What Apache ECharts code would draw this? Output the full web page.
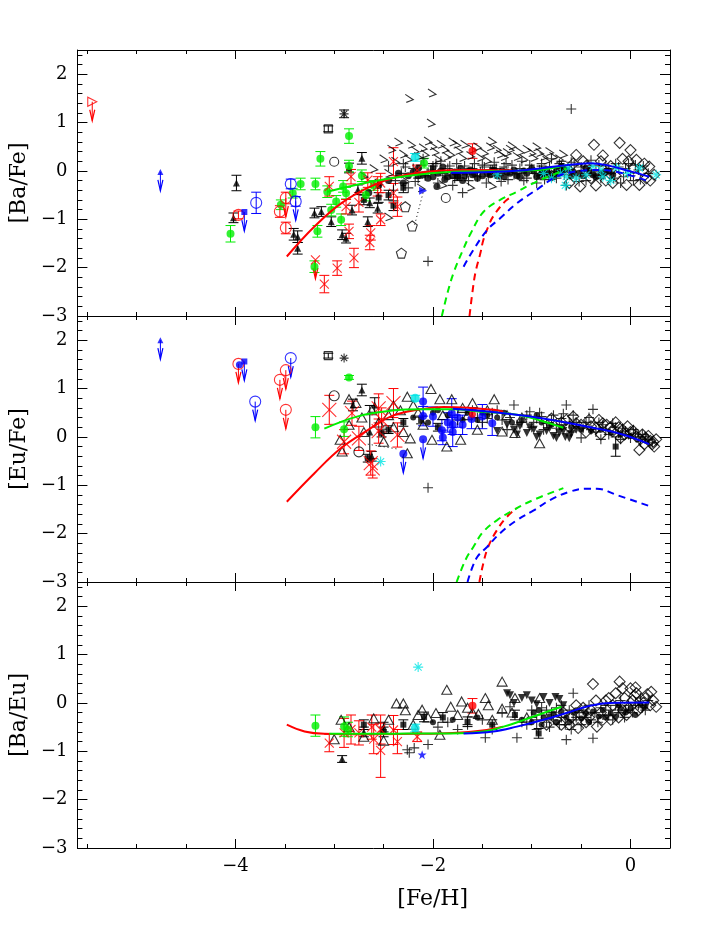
<!DOCTYPE html>
<html>
<head>
  <meta charset="UTF-8">
  <title>Ba Eu Fe</title>
  <script src="https://cdn.jsdelivr.net/npm/echarts@6/dist/echarts.min.js"></script>
  <style>
    * { padding: 0; margin: 0; }
    #main { width: 708px; height: 944px; background: #fff; }
  </style>
</head>
<body>
  <div id="main"></div>
  <script>
    // ---- ticks ----
    var xMajor = [-4, -2, 0];
    var xMinor = [-5.5, -5, -4.5, -3.5, -3, -2.5, -1.5, -1, -0.5];
    var yMajor = [-3, -2, -1, 0, 1, 2];
    var yMinor = [-2.8, -2.6, -2.4, -2.2, -1.8, -1.6, -1.4, -1.2, -0.8, -0.6, -0.4, -0.2,
      0.2, 0.4, 0.6, 0.8, 1.2, 1.4, 1.6, 1.8, 2.2, 2.4];
    var yNames = ['[Ba/Fe]', '[Eu/Fe]', '[Ba/Eu]'];

    // ---- panel 1: [Ba/Fe] ----
    var p1Hook = [[-2.24, 1.50], [-2.01, 1.61], [-2.02, 0.99],
      [-2.50, 0.25], [-2.42, 0.45], [-2.35, 0.60], [-2.30, 0.35], [-2.22, 0.55], [-2.15, 0.30], [-2.10, 0.48],
      [-2.05, 0.62], [-1.98, 0.40], [-1.92, 0.55], [-1.86, 0.30], [-1.80, 0.60], [-1.74, 0.42], [-1.68, 0.55],
      [-1.62, 0.32], [-1.55, 0.50], [-1.48, 0.38], [-1.40, 0.62], [-1.35, 0.45], [-1.28, 0.30], [-1.20, 0.52],
      [-1.12, 0.40], [-1.05, 0.45], [-0.98, 0.28], [-0.92, 0.38], [-0.85, 0.22], [-0.78, 0.30], [-2.45, -0.05],
      [-2.28, -0.20], [-2.12, -0.35], [-1.90, -0.28], [-1.62, -0.33], [-1.40, -0.30], [-2.60, 0.05],
      [-2.70, -0.10], [-2.55, -0.25], [-2.45, -0.95], [-2.38, 0.20], [-2.18, 0.42], [-1.95, 0.25], [-1.70, 0.28],
      [-1.45, 0.22], [-1.25, 0.38], [-1.08, 0.25],
      [-2.25, 0.25], [-2.08, 0.35], [-2.00, 0.52], [-1.88, 0.45], [-1.82, 0.35], [-1.76, 0.55], [-1.60, 0.45],
      [-1.52, 0.28], [-1.42, 0.50], [-1.32, 0.35], [-1.22, 0.45], [-1.15, 0.30], [-1.00, 0.38], [-0.95, 0.50],
      [-0.88, 0.30], [-0.82, 0.40], [-0.72, 0.25], [-0.68, 0.35]];
    var p1Plus = [[-2.45, 0.10], [-2.38, -0.20], [-2.30, 0.15], [-2.25, -0.35], [-2.20, 0.05], [-2.15, -0.15],
      [-2.10, 0.25], [-2.05, -0.05], [-2.00, 0.10], [-1.95, -0.25], [-1.92, 0.20], [-1.88, -0.10], [-1.85, 0.05],
      [-1.80, -0.30], [-1.76, 0.15], [-1.72, -0.05], [-1.68, 0.10], [-1.64, -0.20], [-1.60, 0.05], [-1.55, -0.12],
      [-1.50, 0.12], [-1.46, -0.25], [-1.42, 0.02], [-1.38, 0.18], [-1.33, -0.10], [-1.28, 0.08], [-1.24, -0.18],
      [-1.20, 0.12], [-1.15, -0.05], [-1.10, 0.20], [-1.05, -0.15], [-1.00, 0.05], [-0.95, -0.25], [-0.90, 0.15],
      [-0.85, -0.05], [-0.80, 0.25], [-0.75, -0.15], [-0.70, 0.05], [-0.65, -0.30], [-0.60, 0.18], [-0.55, -0.10],
      [-0.50, 0.08], [-0.45, -0.20], [-0.40, 0.22], [-0.35, 0.00], [-0.30, -0.15], [-0.25, 0.10], [-0.20, -0.05],
      [-0.15, 0.15], [-0.10, -0.25], [-0.05, 0.05], [0.00, -0.10], [0.05, 0.12], [0.10, -0.18], [-1.70, -0.45],
      [-2.40, -0.40], [-0.60, 1.28], [-2.05, -1.87],
      [-2.32, -0.05], [-2.28, 0.08], [-2.18, -0.22], [-2.12, 0.12], [-2.08, -0.10], [-2.02, 0.02], [-1.97, 0.15],
      [-1.90, -0.05], [-1.83, 0.10], [-1.78, -0.15], [-1.74, 0.02], [-1.66, -0.08], [-1.58, 0.15], [-1.52, -0.02],
      [-1.48, 0.08], [-1.44, -0.12], [-1.36, 0.05], [-1.31, -0.22], [-1.26, 0.15], [-1.18, -0.08], [-1.12, 0.05],
      [-1.08, -0.20], [-1.02, 0.12], [-0.97, -0.05], [-0.92, 0.02], [-0.87, -0.18], [-0.82, 0.08], [-0.77, -0.02],
      [-0.72, 0.15], [-0.67, -0.08], [-0.62, 0.02], [-0.57, 0.12], [-0.52, -0.22], [-0.47, 0.00], [-0.42, 0.10],
      [-0.37, -0.10], [-0.32, 0.12], [-0.27, -0.08], [-0.22, 0.05], [-0.17, -0.15], [-0.12, 0.08], [-0.07, -0.12],
      [-0.02, 0.15], [0.03, -0.20], [0.08, 0.02], [0.13, 0.10], [0.18, -0.05]];
    var p1Dot = [[-2.35, -0.05], [-2.15, -0.10], [-1.96, -0.32], [-1.85, -0.12], [-1.72, 0.05], [-1.60, -0.08],
      [-1.45, -0.05], [-1.30, 0.00], [-1.15, -0.10], [-1.00, 0.05], [-0.88, -0.05], [-0.75, 0.00], [-0.60, -0.10],
      [-0.45, 0.05], [-0.30, -0.05], [-2.55, -0.30], [-2.65, -0.45],
      [-2.25, -0.10], [-2.05, -0.15], [-1.95, -0.05], [-1.80, -0.10], [-1.65, 0.00], [-1.55, -0.15], [-1.35, -0.10],
      [-1.22, -0.05], [-1.08, 0.00], [-0.95, -0.12], [-0.82, -0.08], [-0.68, 0.02], [-0.52, -0.05], [-0.38, -0.08],
      [-0.22, 0.00], [-2.45, -0.20], [-2.30, -0.25], [-2.15, 0.05], [-1.90, 0.08], [-1.70, -0.20],
      [-2.20, -0.02], [-2.10, -0.08], [-2.00, -0.12], [-1.92, 0.00], [-1.88, -0.18], [-1.78, -0.02], [-1.75, -0.12],
      [-1.68, -0.10], [-1.62, 0.02], [-1.58, -0.05], [-1.50, -0.10], [-1.42, -0.08], [-1.38, 0.02], [-1.28, -0.12],
      [-1.25, -0.02], [-1.18, 0.02], [-1.12, -0.12], [-1.05, -0.05], [-0.98, 0.00], [-0.92, -0.10], [-0.85, 0.02],
      [-0.78, -0.12], [-0.72, -0.05], [-0.65, 0.02], [-0.58, -0.02], [-0.48, -0.10], [-0.42, 0.00], [-0.35, -0.12],
      [-0.26, -0.02], [-0.18, -0.08]];
    var p1Square = [[-2.55, -0.55, 0.10], [-2.45, -0.50, 0.10], [-2.40, -0.72, 0.10], [-2.70, -0.60, 0.10],
      [-2.30, -0.35, 0.10], [-2.00, 0.05, 0.10], [-1.75, -0.10, 0.10], [-1.40, 0.02, 0.10], [-0.90, 0.00, 0.10],
      [-0.70, 0.10, 0.10]];
    var p1TriF = [[-3.99, -0.25, 0.16], [-4.02, -0.97, 0.10], [-2.72, 0.26, 0.12], [-3.20, -0.87, 0.10],
      [-3.13, -0.84, 0.10], [-3.41, -1.31, 0.12], [-3.37, -1.36, 0.12], [-3.37, -1.60, 0.12], [-3.03, -1.05, 0.10],
      [-2.92, -1.32, 0.10], [-2.88, -1.39, 0.10], [-2.82, -0.81, 0.10], [-2.85, 0.06, 0.10], [-2.76, -0.39, 0.10],
      [-2.66, -1.05, 0.10], [-2.56, -0.77, 0.10], [-2.64, -0.66, 0.10]];
    var p1Green = [[-4.05, -1.30, 0.17], [-3.34, -0.27, 0.12], [-3.19, -0.27, 0.12], [-3.14, 0.25, 0.15],
      [-2.85, 0.72, 0.15], [-3.07, -0.43, 0.12], [-3.03, -0.81, 0.12], [-3.17, -1.25, 0.12], [-3.20, -1.98, 0.12],
      [-2.98, -0.63, 0.12], [-2.91, -0.32, 0.12], [-2.88, -0.46, 0.12], [-2.85, 0.10, 0.12], [-2.72, -0.10, 0.12],
      [-2.68, -0.50, 0.12], [-2.93, -1.01, 0.12], [-3.42, -0.46, 0.10], [-3.54, -0.70, 0.10], [-2.09, 0.16, 0.10],
      [-2.60, -0.30, 0.10]];
    var p1RedX = [[-3.05, -0.32, 0.20], [-2.83, -0.12, 0.15], [-2.75, -0.65, 0.20], [-2.85, -1.25, 0.15],
      [-2.80, -1.80, 0.20], [-2.97, -2.01, 0.15], [-3.10, -2.34, 0.18], [-2.63, -1.28, 0.15], [-2.64, -1.48, 0.15],
      [-2.53, -1.01, 0.12], [-2.40, 0.19, 0.29], [-2.40, -0.46, 0.20], [-2.36, -0.74, 0.20], [-2.56, -0.32, 0.20],
      [-2.88, -0.74, 0.15], [-2.66, -0.19, 0.15], [-2.53, -0.25, 0.20], [-2.16, 0.02, 0.10]];
    var p1RedXLim = [[-3.19, -1.84]];
    var p1RedCirc = [[-3.97, -0.91, 0.08], [-3.55, -0.84, 0.12], [-3.49, -0.56, 0.12], [-3.49, -1.18, 0.12]];
    var p1RedCircLim = [[-3.49, -0.56]];
    var p1BlueCirc = [[-3.79, -0.66, 0.22], [-3.44, -0.27, 0.10], [-3.39, -0.63, 0.10]];
    var p1BlueCircLim = [[-3.39, -0.63]];
    var p1BlueSq = [[-3.91, -0.85]];
    var p1BlueTri = [[-4.76, -0.02]];
    var p1RedTri = [[-5.45, 1.43]];
    var p1BlueTriR = [[-2.10, -0.41]];
    var p1CyanDot = [[-2.18, 0.28, 0.08]];
    var p1CyanStar = [[-1.35, -0.08], [-0.88, -0.05], [-0.80, -0.15], [-0.71, -0.05], [-0.65, -0.12], [-0.63, 0.06],
      [-0.66, -0.30], [-0.45, -0.08], [-0.38, 0.09], [-0.30, 0.02], [-0.28, -0.12], [-0.14, 0.06], [-0.03, -0.05],
      [0.09, 0.06], [0.26, -0.08], [-0.55, -0.15], [-0.20, -0.20]];
    var p1RedDot = [[-1.60, 0.41, 0.15]];
    var p1Ast = [[-2.90, 1.18, 0.08]];
    var p1OpenSq = [[-3.06, 0.87, 0.06]];
    var p1OpenCirc = [[-3.00, 0.19], [-1.87, -0.56]];
    var p1Pent = [[-2.32, -1.70], [-2.21, -1.14], [-2.28, -0.74]];
    var p1Diamond = [[-0.80, -0.10], [-0.70, 0.05], [-0.62, -0.25], [-0.55, 0.33], [-0.51, -0.32], [-0.45, 0.10],
      [-0.40, -0.15], [-0.37, 0.54], [-0.30, 0.20], [-0.25, -0.20], [-0.20, 0.10], [-0.15, -0.10], [-0.11, 0.58],
      [-0.08, 0.25], [-0.04, -0.29], [0.00, 0.43], [0.03, 0.05], [0.06, 0.23], [0.09, -0.29], [0.12, 0.00],
      [0.16, -0.15], [0.19, 0.09], [0.24, -0.08], [-0.35, -0.30], [-0.58, 0.15], [-0.48, 0.20], [-0.28, 0.32],
      [-0.18, -0.25], [-0.02, 0.20], [0.14, 0.15], [0.20, -0.20]];
    var p1RedLine = [[-3.48, -1.77], [-3.20, -1.15], [-2.93, -0.67], [-2.63, -0.32], [-2.36, -0.12], [-2.03, -0.01],
      [-1.62, 0.02], [-1.20, 0.01]];
    var p1GreenLine = [[-3.07, -0.43], [-2.53, -0.19], [-2.02, -0.05], [-1.62, -0.01], [-1.20, 0.00], [-0.88, 0.03],
      [-0.65, 0.12]];
    var p1BlueLine = [[-1.82, -0.04], [-1.40, -0.02], [-1.05, 0.02], [-0.72, 0.10], [-0.41, 0.16], [-0.24, 0.12],
      [0.00, -0.01], [0.19, -0.12]];
    var p1RedDash = [[-1.63, -3.0], [-1.60, -2.5], [-1.57, -2.1], [-1.52, -1.7], [-1.49, -1.43], [-1.44, -1.15],
      [-1.39, -0.94], [-1.27, -0.63], [-1.20, -0.53]];
    var p1GreenDash = [[-1.91, -3.0], [-1.85, -2.5], [-1.79, -2.1], [-1.70, -1.65], [-1.62, -1.30], [-1.49, -0.85],
      [-1.32, -0.60], [-1.15, -0.43], [-0.95, -0.22], [-0.75, -0.05], [-0.65, 0.05]];
    var p1BlueDash = [[-1.69, -1.98], [-1.59, -1.63], [-1.45, -1.22], [-1.32, -0.98], [-1.15, -0.67], [-0.93, -0.36],
      [-0.75, -0.12], [-0.55, -0.01], [-0.31, 0.02], [-0.08, -0.05], [0.19, -0.22]];
    var p1Dotted = [[-2.10, -0.45], [-2.19, -1.15]];

    // ---- panel 2: [Eu/Fe] ----
    var p2BlueTri = [[-4.76, 2.00]];
    var p2RedCirc = [[-3.97, 1.51], [-3.49, 1.38], [-3.55, 1.18], [-3.49, 0.56]];
    var p2BlueCirc = [[-3.44, 1.63], [-3.80, 0.73]];
    var p2BlueSq = [[-3.91, 1.56]];
    var p2BlueDotLim = [[-3.96, 1.49]];
    var p2OpenSq = [[-3.06, 1.68, 0.05]];
    var p2Ast = [[-2.90, 1.63]];
    var p2Green = [[-2.85, 1.23, 0.04], [-3.19, 0.20, 0.22], [-2.90, 0.16, 0.15]];
    var p2OpenCirc = [[-3.00, 0.85], [-2.75, -0.31]];
    var p2TriF = [[-2.72, 0.97, 0.12], [-2.81, 0.66, 0.12], [-2.59, 0.66, 0.15], [-2.64, 0.10, 0.55],
      [-2.62, -0.40, 0.10]];
    var p2Square = [[-2.52, 0.08, 0.08], [-2.66, -0.44, 0.08], [-2.45, 0.15, 0.08], [-2.30, 0.30, 0.08],
      [-2.12, 0.35, 0.08], [-1.95, 0.20, 0.08], [-0.15, -0.20, 0.20]];
    var p2RedX = [[-3.05, 0.56, 0.30], [-2.82, 0.49, 0.25], [-2.90, -0.10, 0.25], [-2.75, -0.03, 0.25],
      [-2.55, 0.59, 0.30], [-2.40, 0.70, 0.30], [-2.52, 0.35, 0.25], [-2.55, 0.12, 0.25], [-2.36, 0.04, 0.25],
      [-2.63, -0.54, 0.25], [-2.61, -0.65, 0.20]];
    var p2RedDot = [[-1.60, 0.47, 0.08]];
    var p2CyanStar = [[-2.53, -0.51]];
    var p2CyanDot = [[-2.18, 0.80, 0.06]];
    var p2Blue = [[-2.10, 0.73, 0.30], [-2.10, 0.43, 0.20], [-2.00, 0.42, 0.20], [-1.91, 0.14, 0.22],
      [-1.90, -0.01, 0.15], [-1.81, 0.49, 0.30], [-1.80, 0.25, 0.20], [-1.80, 0.10, 0.30], [-1.70, 0.25, 0.20],
      [-1.61, 0.37, 0.20], [-1.50, 0.42, 0.25], [-1.40, 0.28, 0.25], [-1.75, 0.40, 0.20], [-1.85, 0.30, 0.20]];
    var p2BlueLim = [[-2.10, -0.05], [-2.30, -0.35]];
    var p2Tri = [[-2.94, -0.06], [-2.92, -0.30], [-2.85, 0.78], [-2.78, 0.70], [-2.72, 0.40], [-2.62, 0.55],
      [-2.55, 0.30], [-2.45, 0.45], [-2.40, 0.20], [-2.33, 0.55], [-2.26, 0.83], [-2.23, -0.03], [-2.26, -0.34],
      [-2.15, 0.50], [-2.02, 0.99], [-2.01, -0.06], [-1.93, 0.78], [-1.86, -0.20], [-1.81, 0.78], [-1.72, -0.06],
      [-1.70, 0.60], [-1.65, 0.45], [-1.55, 0.15], [-1.45, 0.55], [-1.38, 0.78], [-1.30, 0.11], [-1.25, 0.45],
      [-1.17, 0.08], [-1.10, 0.40], [-0.92, -0.13], [-2.50, -0.10], [-2.70, 0.10], [-2.85, 0.25], [-2.30, 0.10],
      [-2.10, 0.25], [-1.60, 0.70], [-2.40, 0.65], [-1.90, 0.45], [-2.20, 0.65]];
    var p2Plus = [[-1.60, 0.55], [-1.50, 0.30], [-1.40, 0.50], [-1.30, 0.35], [-1.18, 0.66], [-1.15, 0.25],
      [-1.05, 0.45], [-1.00, 0.20], [-0.95, 0.38], [-0.88, 0.15], [-0.80, 0.35], [-0.72, 0.25], [-0.65, 0.66],
      [-0.60, 0.10], [-0.55, 0.30], [-0.48, 0.18], [-0.42, 0.40], [-0.38, 0.57], [-0.35, 0.10], [-0.28, 0.25],
      [-0.22, 0.05], [-0.15, 0.20], [-0.10, -0.05], [-0.05, 0.12], [0.00, -0.02], [0.05, 0.08], [0.10, -0.10],
      [0.15, 0.00], [-0.68, 0.48], [-0.92, 0.50], [-1.25, 0.15], [-0.50, -0.02], [-0.30, -0.05], [-1.75, 0.35],
      [-1.55, 0.40], [-2.05, -1.05],
      [-1.45, 0.38], [-1.35, 0.55], [-1.22, 0.40], [-1.10, 0.30], [-1.02, 0.52], [-0.98, 0.30], [-0.90, 0.42],
      [-0.85, 0.28], [-0.78, 0.45], [-0.75, 0.18], [-0.70, 0.38], [-0.62, 0.30], [-0.58, 0.45], [-0.52, 0.22],
      [-0.45, 0.30], [-0.40, 0.15], [-0.32, 0.30], [-0.25, 0.15], [-0.18, 0.28], [-0.12, 0.08], [-0.08, 0.18],
      [-0.02, 0.05], [0.03, 0.15], [0.08, 0.00], [0.12, 0.05], [0.18, -0.05], [0.22, -0.12]];
    var p2TriInv = [[-1.25, 0.25], [-1.18, 0.15], [-1.12, 0.22], [-1.05, 0.08], [-0.98, 0.15], [-0.92, 0.05],
      [-0.85, 0.12], [-0.78, 0.02], [-0.72, 0.08], [-0.66, 0.00], [-0.60, 0.06], [-1.35, 0.12], [-0.55, 0.15],
      [-1.15, 0.05], [-1.02, 0.20], [-0.95, 0.00], [-0.82, 0.18], [-0.75, -0.02], [-0.68, 0.12], [-0.62, -0.03]];
    var p2Diamond = [[-0.80, 0.38], [-0.70, 0.30], [-0.58, 0.42], [-0.50, 0.25], [-0.42, 0.35], [-0.35, 0.18],
      [-0.28, 0.28], [-0.24, 0.25], [-0.18, 0.12], [-0.12, 0.20], [-0.06, 0.05], [0.00, 0.10], [0.06, 0.01],
      [0.10, -0.05], [0.15, -0.02], [0.20, -0.08], [0.23, -0.10], [0.24, -0.20], [0.09, -0.27], [-0.30, 0.05],
      [-0.45, 0.10], [-0.62, 0.20],
      [-0.65, 0.35], [-0.55, 0.28], [-0.40, 0.22], [-0.32, 0.35], [-0.20, 0.20], [-0.15, 0.30], [-0.08, 0.15],
      [-0.03, 0.22], [0.03, 0.12], [0.12, 0.05], [0.18, 0.02], [0.22, -0.15], [0.26, -0.05], [0.14, -0.15],
      [-0.10, -0.02]];
    var p2Dot = [[-1.85, 0.45], [-1.70, 0.35], [-1.50, 0.50], [-1.35, 0.40], [-2.00, 0.50], [-1.20, 0.30],
      [-1.65, 0.50], [-1.55, 0.35], [-1.45, 0.45], [-1.28, 0.50], [-1.10, 0.35], [-0.95, 0.45], [-2.20, 0.40],
      [-2.05, 0.30], [-1.95, 0.55], [-0.90, 0.30], [-0.80, 0.25], [-0.70, 0.20], [-0.60, 0.20], [-0.50, 0.15],
      [-0.40, 0.12], [-0.30, 0.15], [-0.20, 0.08], [-0.10, 0.05], [0.00, 0.02]];
    var p2RedLine = [[-3.48, -1.34], [-3.20, -0.75], [-2.93, -0.23], [-2.66, 0.14], [-2.43, 0.42], [-2.16, 0.56],
      [-1.89, 0.62], [-1.62, 0.60], [-1.38, 0.56], [-1.29, 0.52]];
    var p2GreenLine = [[-3.10, 0.17], [-2.77, 0.42], [-2.43, 0.54], [-2.09, 0.57], [-1.82, 0.57], [-1.49, 0.52],
      [-1.15, 0.46], [-0.88, 0.32], [-0.68, 0.19]];
    var p2BlueLine = [[-1.80, 0.58], [-1.42, 0.52], [-1.05, 0.43], [-0.71, 0.32], [-0.38, 0.19], [-0.08, 0.05],
      [0.19, -0.15]];
    var p2RedDash = [[-1.53, -3.0], [-1.49, -2.61], [-1.44, -2.27], [-1.35, -1.92], [-1.25, -1.65], [-1.15, -1.47]];
    var p2GreenDash = [[-1.76, -3.0], [-1.67, -2.54], [-1.59, -2.27], [-1.49, -1.96], [-1.35, -1.72], [-1.19, -1.52],
      [-0.98, -1.30], [-0.68, -1.06]];
    var p2BlueDash = [[-1.65, -3.0], [-1.56, -2.51], [-1.45, -2.27], [-1.32, -1.99], [-1.15, -1.72], [-0.98, -1.52],
      [-0.81, -1.30], [-0.61, -1.13], [-0.44, -1.07], [-0.34, -1.07], [-0.14, -1.20], [0.19, -1.43]];
    var p2Dotted = [[-2.66, -0.15], [-2.36, -0.25]];

    // ---- panel 3: [Ba/Eu] ----
    var p3CyanStar = [[-2.15, 0.74]];
    var p3CyanDot = [[-2.18, -0.52, 0.08]];
    var p3Green = [[-3.19, -0.47, 0.22], [-2.90, -0.49, 0.20], [-2.86, -0.55, 0.15]];
    var p3TriF = [[-2.92, -1.16, 0.07], [-2.70, -0.60, 0.10], [-2.50, -0.50, 0.10]];
    var p3BlueStar = [[-2.11, -1.07]];
    var p3RedX = [[-3.05, -0.83, 0.18], [-2.90, -0.62, 0.30], [-2.83, -0.55, 0.30], [-2.75, -0.62, 0.25],
      [-2.62, -0.50, 0.25], [-2.53, -0.98, 0.56], [-2.53, -0.55, 0.30], [-2.40, -0.56, 0.30], [-2.36, -0.80, 0.25],
      [-2.16, -0.70, 0.10], [-2.60, -0.75, 0.30]];
    var p3RedDot = [[-1.60, -0.06, 0.15]];
    var p3Tri = [[-2.93, -0.35], [-3.00, -0.75], [-2.85, -0.50], [-2.70, -0.70], [-2.60, -0.32], [-2.50, -0.78],
      [-2.37, -0.01], [-2.30, -0.01], [-2.28, -0.15], [-2.20, -0.45], [-2.11, -0.14], [-2.05, -0.30], [-1.97, -0.21],
      [-1.93, -0.66], [-1.86, 0.27], [-1.82, -0.08], [-1.75, -0.25], [-1.71, 0.03], [-1.65, -0.10], [-1.54, -0.23],
      [-1.47, 0.10], [-1.44, -0.05], [-1.40, -0.35], [-1.30, 0.44], [-1.30, -0.12], [-1.20, -0.20], [-1.17, 0.10],
      [-1.05, -0.30], [-0.92, 0.10], [-2.45, -0.35], [-2.15, -0.25], [-1.60, -0.20]];
    var p3Plus = [[-2.26, -0.97], [-2.24, -1.03], [-2.19, -0.93], [-2.05, -0.86], [-1.95, -0.50], [-1.85, -0.40],
      [-1.75, -0.55], [-1.65, -0.45], [-1.50, -0.35], [-1.47, -0.72], [-1.40, -0.55], [-1.30, -0.20], [-1.22, -0.08],
      [-1.15, -0.72], [-1.10, -0.40], [-1.00, -0.30], [-0.95, -0.55], [-0.85, -0.40], [-0.80, -0.20], [-0.72, -0.45],
      [-0.65, -0.76], [-0.58, 0.20], [-0.55, -0.30], [-0.48, -0.15], [-0.40, -0.35], [-0.38, -0.73], [-0.30, -0.10],
      [-0.22, -0.25], [-0.15, -0.05], [-0.05, -0.15], [0.05, 0.00], [0.12, -0.10], [-0.70, -0.05], [-0.90, -0.10],
      [-0.60, -0.55],
      [-1.05, -0.45], [-1.00, -0.15], [-0.95, -0.35], [-0.90, -0.25], [-0.85, -0.15], [-0.82, -0.50], [-0.78, -0.35],
      [-0.75, -0.10], [-0.70, -0.30], [-0.66, -0.45], [-0.62, -0.15], [-0.58, -0.35], [-0.52, -0.20], [-0.50, -0.45],
      [-0.45, -0.30], [-0.42, -0.05], [-0.36, -0.20], [-0.33, -0.40], [-0.28, -0.25], [-0.25, -0.05], [-0.20, -0.15],
      [-0.18, -0.35], [-0.12, -0.20], [-0.10, 0.05], [-0.06, -0.30], [-0.02, -0.05], [0.02, -0.20], [0.08, -0.05],
      [0.10, 0.10], [0.15, -0.15], [0.18, 0.05]];
    var p3TriInv = [[-1.25, 0.20], [-1.22, 0.16], [-1.18, 0.00], [-1.10, 0.10], [-1.05, 0.16], [-1.00, 0.05],
      [-0.95, -0.03], [-0.88, 0.12], [-0.82, 0.00], [-0.76, 0.12], [-0.72, 0.08], [-0.68, -0.05]];
    var p3Square = [[-2.09, -0.29, 0.10], [-1.65, -0.39, 0.10], [-1.17, -0.25, 0.10], [-0.93, -0.63, 0.10],
      [-2.30, -0.45, 0.10], [-2.50, -0.60, 0.10], [-2.70, -0.45, 0.10], [-1.90, -0.30, 0.10], [-1.40, -0.45, 0.10]];
    var p3Diamond = [[-0.75, -0.35], [-0.68, -0.20], [-0.62, -0.45], [-0.53, -0.52], [-0.48, -0.10], [-0.42, -0.30],
      [-0.38, 0.39], [-0.34, -0.49], [-0.30, -0.20], [-0.25, 0.05], [-0.20, -0.35], [-0.15, 0.20], [-0.11, 0.44],
      [-0.08, -0.15], [-0.04, -0.25], [0.00, 0.30], [0.02, 0.05], [0.06, 0.20], [0.10, -0.10], [0.15, 0.10],
      [0.21, 0.23], [0.26, -0.08], [0.20, -0.05], [-0.55, -0.05], [-0.85, -0.45],
      [-0.70, -0.45], [-0.60, -0.30], [-0.50, -0.25], [-0.45, -0.40], [-0.40, -0.15], [-0.28, -0.35], [-0.22, 0.10],
      [-0.18, -0.05], [-0.12, -0.30], [-0.06, 0.10], [-0.02, -0.10], [0.04, 0.15], [0.08, -0.15], [0.13, 0.00],
      [0.17, 0.18], [0.23, 0.05], [-0.35, 0.05], [-0.08, 0.30], [0.05, 0.32]];
    var p3Dot = [[-1.10, -0.35], [-0.98, -0.20], [-0.88, -0.30], [-0.78, -0.22], [-0.65, -0.30], [-0.55, -0.15],
      [-0.45, -0.22], [-0.32, -0.28], [-0.20, -0.22], [-0.10, -0.12], [-1.55, -0.30], [-1.80, -0.35], [-2.00, -0.40],
      [-1.00, -0.40], [-0.93, -0.15], [-0.90, -0.45], [-0.82, -0.28], [-0.75, -0.40], [-0.70, -0.18], [-0.62, -0.40],
      [-0.58, -0.20], [-0.50, -0.32], [-0.42, -0.40], [-0.38, -0.18], [-0.28, -0.15], [-0.25, -0.30], [-0.15, -0.28],
      [-0.12, -0.05], [-0.05, -0.20], [0.00, -0.12], [0.05, -0.25], [0.10, -0.02], [0.15, -0.08]];
    var p3RedLine = [[-3.48, -0.45], [-3.30, -0.59], [-3.10, -0.64], [-2.70, -0.65], [-2.20, -0.64], [-1.80, -0.62],
      [-1.50, -0.57], [-1.29, -0.49]];
    var p3GreenLine = [[-3.05, -0.64], [-2.50, -0.64], [-2.00, -0.63], [-1.82, -0.63], [-1.49, -0.59], [-1.22, -0.45],
      [-0.98, -0.28], [-0.70, -0.08]];
    var p3BlueLine = [[-1.69, -0.63], [-1.39, -0.59], [-1.15, -0.49], [-0.88, -0.35], [-0.65, -0.21], [-0.41, -0.06],
      [-0.21, 0.00], [0.19, 0.01]];

    // ---- symbols ----
    var PLUS = 'path://M0,5L10,5M5,0L5,10';
    var CROSS = 'path://M0,0L10,10M10,0L0,10';
    var STAR = 'path://M5,0L5,10M0,5L10,5M1.5,1.5L8.5,8.5M8.5,1.5L1.5,8.5';
    var HOOK = 'path://M0,0L8,6L1,9';
    var FONT = 'DejaVu Serif';
    var RED = '#ff0000', GREEN = '#00ee00', BLUE = '#0000ff', CYAN = '#00e5e5', BLACK = '#000';

    function minus(v) { return v < 0 ? '\u2212' + Math.abs(v) : String(v); }

    var chartDom = document.getElementById('main');
    var myChart = echarts.init(chartDom);
    var option;

    var grid = [], xAxis = [], yAxis = [], series = [];
    var line = { color: '#000', width: 1 };
    for (var g = 0; g < 3; g++) {
      grid.push({ left: 74, width: 596, top: 50 + g * 266, height: 266 });
      ['bottom', 'top'].forEach(function (pos) {
        xAxis.push({
          gridIndex: g, type: 'value', min: -5.6, max: 0.4, position: pos,
          axisLine: { show: true, onZero: false, lineStyle: line },
          axisTick: { inside: true, length: 9, customValues: xMajor, lineStyle: line },
          axisLabel: {
            show: g === 2 && pos === 'bottom', customValues: xMajor, formatter: minus, margin: 9,
            fontFamily: FONT, fontSize: 18, color: '#000'
          },
          splitLine: { show: false },
          name: g === 2 && pos === 'bottom' ? '[Fe/H]' : '', nameLocation: 'middle', nameGap: 40,
          nameTextStyle: { fontFamily: FONT, fontSize: 22, color: '#000', padding: [0, 0, 0, 118] }
        });
        xAxis.push({
          gridIndex: g, type: 'value', min: -5.6, max: 0.4, position: pos,
          axisLine: { show: false, onZero: false },
          axisTick: { inside: true, length: 4, customValues: xMinor, lineStyle: line },
          axisLabel: { show: false }, splitLine: { show: false }
        });
      });
      ['left', 'right'].forEach(function (pos) {
        yAxis.push({
          gridIndex: g, type: 'value', min: -3, max: 2.5, position: pos,
          axisLine: { show: true, onZero: false, lineStyle: line },
          axisTick: { inside: true, length: 10, customValues: yMajor, lineStyle: line },
          axisLabel: {
            show: pos === 'left', customValues: yMajor, formatter: minus, margin: 10,
            fontFamily: FONT, fontSize: 18, color: '#000'
          },
          splitLine: { show: false },
          name: pos === 'left' ? yNames[g] : '', nameLocation: 'middle', nameGap: 46,
          nameTextStyle: { fontFamily: FONT, fontSize: 22, color: '#000' }
        });
        yAxis.push({
          gridIndex: g, type: 'value', min: -3, max: 2.5, position: pos,
          axisLine: { show: false, onZero: false },
          axisTick: { inside: true, length: 5, customValues: yMinor, lineStyle: line },
          axisLabel: { show: false }, splitLine: { show: false }
        });
      });
    }

    function errBar(params, api) {
      var x = api.value(0), y = api.value(1), e = api.value(2);
      var a = api.coord([x, y + e]), b = api.coord([x, y - e]);
      var st = { stroke: api.visual('color'), lineWidth: 1 };
      return {
        type: 'group', children: [
          { type: 'line', shape: { x1: a[0], y1: a[1], x2: b[0], y2: b[1] }, style: st },
          { type: 'line', shape: { x1: a[0] - 5, y1: a[1], x2: a[0] + 5, y2: a[1] }, style: st },
          { type: 'line', shape: { x1: b[0] - 5, y1: b[1], x2: b[0] + 5, y2: b[1] }, style: st }
        ]
      };
    }
    function arrowDown(params, api) {
      var p = api.coord([api.value(0), api.value(1)]);
      var c = api.visual('color');
      var L = 19;
      return {
        type: 'group', children: [
          { type: 'line', shape: { x1: p[0], y1: p[1], x2: p[0], y2: p[1] + L }, style: { stroke: c, lineWidth: 1 } },
          {
            type: 'polyline', shape: { points: [[p[0] - 2.5, p[1] + L - 11], [p[0], p[1] + L], [p[0] + 2.5, p[1] + L - 11]] },
            style: { fill: null, stroke: c, lineWidth: 1.2 }
          }
        ]
      };
    }
    function base(g) { return { xAxisIndex: 4 * g, yAxisIndex: 4 * g, silent: true, animation: false }; }
    function pts(g, data, symbol, size, color, filled, extra) {
      series.push(Object.assign(base(g), {
        type: 'scatter', data: data, symbol: symbol, symbolSize: size, z: 3,
        itemStyle: filled ? { color: color } : { color: 'rgba(0,0,0,0)', borderColor: color, borderWidth: 1.1 }
      }, extra || {}));
    }
    function errs(g, data, color) {
      series.push(Object.assign(base(g), {
        type: 'custom', data: data, renderItem: errBar, encode: { x: 0, y: 1 }, itemStyle: { color: color }, z: 2
      }));
    }
    function lims(g, data, color) {
      series.push(Object.assign(base(g), {
        type: 'custom', data: data, renderItem: arrowDown, encode: { x: 0, y: 1 }, itemStyle: { color: color }, z: 2
      }));
    }
    function curve(g, data, color, dashed) {
      series.push(Object.assign(base(g), {
        type: 'line', data: data, smooth: 0.4, symbol: 'none', z: 5,
        lineStyle: { color: color, width: 2, type: dashed ? [7, 5] : 'solid' }
      }));
    }

    // panel 1
    pts(0, p1Hook, HOOK, [8, 8], BLACK, false);
    pts(0, p1Plus, PLUS, 10, BLACK, false);
    pts(0, p1Diamond, 'diamond', 11, BLACK, false);
    pts(0, p1Dot, 'circle', 7, BLACK, true);
    errs(0, p1Square, BLACK); pts(0, p1Square, 'rect', 6, BLACK, true);
    errs(0, p1TriF, BLACK); pts(0, p1TriF, 'triangle', 7, BLACK, true);
    errs(0, p1Ast, BLACK); pts(0, p1Ast, STAR, 9, BLACK, false);
    errs(0, p1OpenSq, BLACK); pts(0, p1OpenSq, 'rect', 8, BLACK, false);
    pts(0, p1OpenCirc, 'circle', 9, BLACK, false);
    pts(0, p1Pent, 'path://M5,0L10,3.8L8.1,10L1.9,10L0,3.8Z', 10, BLACK, false);
    pts(0, p1CyanStar, STAR, 10, CYAN, false);
    errs(0, p1CyanDot, CYAN); pts(0, p1CyanDot, 'circle', 9, CYAN, true);
    errs(0, p1Green, GREEN); pts(0, p1Green, 'circle', 8, GREEN, true);
    errs(0, p1RedX, RED); pts(0, p1RedX, CROSS, 9, RED, false);
    lims(0, p1RedXLim, RED); pts(0, p1RedXLim, CROSS, 9, RED, false);
    errs(0, p1RedCirc, RED); pts(0, p1RedCirc, 'circle', 11, RED, false);
    lims(0, p1RedCircLim, RED);
    errs(0, p1BlueCirc, BLUE); pts(0, p1BlueCirc, 'circle', 11, BLUE, false);
    lims(0, p1BlueCircLim, BLUE);
    lims(0, p1BlueSq, BLUE); pts(0, p1BlueSq, 'rect', 6, BLUE, true);
    lims(0, p1BlueTri, BLUE); pts(0, p1BlueTri, 'triangle', 6, BLUE, true);
    lims(0, p1RedTri, RED); pts(0, p1RedTri, 'triangle', 9, RED, false, { symbolRotate: -90 });
    pts(0, p1BlueTriR, 'triangle', 8, BLUE, true, { symbolRotate: -90 });
    errs(0, p1RedDot, RED); pts(0, p1RedDot, 'circle', 8, RED, true);
    curve(0, p1RedLine, RED); curve(0, p1GreenLine, GREEN); curve(0, p1BlueLine, BLUE);
    curve(0, p1RedDash, RED, true); curve(0, p1GreenDash, GREEN, true); curve(0, p1BlueDash, BLUE, true);
    series.push(Object.assign(base(0), {
      type: 'line', data: p1Dotted, symbol: 'none', z: 4, lineStyle: { color: BLACK, width: 1, type: [1, 3] }
    }));

    // panel 2
    pts(1, p2Tri, 'triangle', [10, 9], BLACK, false);
    pts(1, p2Plus, PLUS, 10, BLACK, false);
    pts(1, p2Diamond, 'diamond', 11, BLACK, false);
    pts(1, p2TriInv, 'triangle', 8, BLACK, true, { symbolRotate: 180 });
    pts(1, p2Dot, 'circle', 6, BLACK, true);
    errs(1, p2Square, BLACK); pts(1, p2Square, 'rect', 6, BLACK, true);
    errs(1, p2TriF, BLACK); pts(1, p2TriF, 'triangle', 7, BLACK, true);
    errs(1, p2OpenSq, BLACK); pts(1, p2OpenSq, 'rect', 8, BLACK, false);
    pts(1, p2Ast, STAR, 9, BLACK, false);
    pts(1, p2OpenCirc, 'circle', 10, BLACK, false);
    errs(1, p2Blue, BLUE); pts(1, p2Blue, 'circle', 8, BLUE, true);
    lims(1, p2BlueLim, BLUE); pts(1, p2BlueLim, 'circle', 8, BLUE, true);
    errs(1, p2RedX, RED); pts(1, p2RedX, CROSS, 14, RED, false);
    errs(1, p2Green, GREEN); pts(1, p2Green, 'circle', 8, GREEN, true);
    errs(1, p2RedDot, RED); pts(1, p2RedDot, 'circle', 7, RED, true);
    pts(1, p2CyanStar, STAR, 10, CYAN, false);
    errs(1, p2CyanDot, CYAN); pts(1, p2CyanDot, 'circle', 9, CYAN, true);
    lims(1, p2RedCirc, RED); pts(1, p2RedCirc, 'circle', 11, RED, false);
    lims(1, p2BlueCirc, BLUE); pts(1, p2BlueCirc, 'circle', 11, BLUE, false);
    lims(1, p2BlueSq, BLUE); pts(1, p2BlueSq, 'rect', 6, BLUE, true);
    pts(1, p2BlueDotLim, 'circle', 7, BLUE, true);
    lims(1, p2BlueTri, BLUE); pts(1, p2BlueTri, 'triangle', 6, BLUE, true);
    curve(1, p2RedLine, RED); curve(1, p2GreenLine, GREEN); curve(1, p2BlueLine, BLUE);
    curve(1, p2RedDash, RED, true); curve(1, p2GreenDash, GREEN, true); curve(1, p2BlueDash, BLUE, true);
    series.push(Object.assign(base(1), {
      type: 'line', data: p2Dotted, symbol: 'none', z: 4, lineStyle: { color: BLACK, width: 1, type: [1, 3] }
    }));

    // panel 3
    pts(2, p3Tri, 'triangle', [10, 9], BLACK, false);
    pts(2, p3Plus, PLUS, 10, BLACK, false);
    pts(2, p3Diamond, 'diamond', 11, BLACK, false);
    pts(2, p3TriInv, 'triangle', 8, BLACK, true, { symbolRotate: 180 });
    pts(2, p3Dot, 'circle', 6, BLACK, true);
    errs(2, p3Square, BLACK); pts(2, p3Square, 'rect', 6, BLACK, true);
    errs(2, p3TriF, BLACK); pts(2, p3TriF, 'triangle', 7, BLACK, true);
    errs(2, p3RedX, RED); pts(2, p3RedX, CROSS, 9, RED, false);
    errs(2, p3Green, GREEN); pts(2, p3Green, 'circle', 8, GREEN, true);
    errs(2, p3RedDot, RED); pts(2, p3RedDot, 'circle', 8, RED, true);
    pts(2, p3CyanStar, STAR, 10, CYAN, false);
    errs(2, p3CyanDot, CYAN); pts(2, p3CyanDot, 'circle', 9, CYAN, true);
    pts(2, p3BlueStar, 'path://M5,0L6.2,3.6L10,3.6L7,5.9L8.1,9.5L5,7.3L1.9,9.5L3,5.9L0,3.6L3.8,3.6Z', 9, BLUE, true);
    curve(2, p3RedLine, RED); curve(2, p3GreenLine, GREEN); curve(2, p3BlueLine, BLUE);

    option = {
      backgroundColor: '#fff',
      animation: false,
      grid: grid,
      xAxis: xAxis,
      yAxis: yAxis,
      series: series
    };

    option && myChart.setOption(option);
  </script>
</body>
</html>
